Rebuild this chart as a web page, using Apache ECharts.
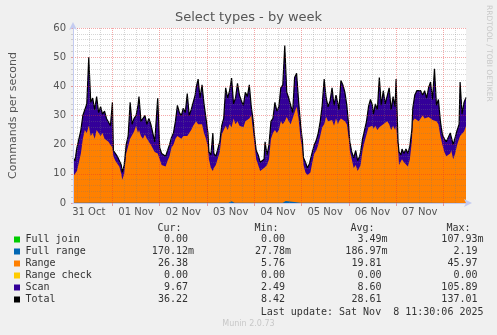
<!DOCTYPE html>
<html><head><meta charset="utf-8">
<script src="https://cdn.jsdelivr.net/npm/echarts@6/dist/echarts.min.js"></script>
<style>html,body{margin:0;padding:0;background:#f0f0f0;}#c{width:497px;height:335px;}</style>
</head><body><div id="c"></div>
<script>
// hours since 31 Oct 00:00
const hours = [4,5,6,7,8,9,10,11,12,13,14,15,16,17,18,19,20,21,22,23,24,24.5,25.5,26.5,27.5,28.5,29,30,31,32,33,34,35,36,37,37.5,38.5,39.5,40.5,41.5,42.5,43.5,44.5,45.5,46.5,47,48,49,50,51,52,53,54,55,56,57,58,59,60,61,62,63,64,65,66,66.5,67.5,68.5,69.5,70.5,71.5,72.5,73,74,75,75.5,76.5,77.5,78.5,79.5,80.5,81.5,82.5,83.5,84.5,85.5,86.5,87.5,88.5,89.5,90.5,91.5,92.5,93.5,94.5,95.5,96,97,98,99,100,101,101.5,102.5,103.5,104.5,105.5,106.5,107.5,108.5,109.5,110.5,111.5,112.5,113.5,114.5,115.5,116.5,117.5,118.5,119.5,120.5,121,122,123,124,124.5,125.5,126.5,127.5,128.5,129.5,130.5,131.5,132.5,133.5,134.5,135.5,136.5,137.5,138.5,139,140,141,142,143,144,144.5,145.5,146.5,147.5,148.5,149.5,150,151,152,153,154,155,156,156.5,157.5,158.5,159.5,160.5,161.5,162.5,163.5,164.5,165.5,166.5,167.5,168,169,169.5,170.5,171,172,173,174,175,176,176.5,177.5,178.5,179.5,180.5,181.5,182.5,183.5,184.5,185.5,186.5,187.5,188.5,189.5,190.5,191.5,192.5,193.5,194.5,195.5,196,197,198,199,200,200.5,201.5,202.5,203.5];
const rangeVals = [9,8.5,11,14,17,22,25,24,26.5,23,24,22,25,24,23,24,22,22.5,21,20,19,16,14.5,13.5,12.5,10,8,10,17,19.5,22,22.5,24.5,26.5,24,25,23,22,23.5,22,21,20,19.5,17.5,17,17,15,13,13,12.5,14.5,16,19,20,22,23,23.5,22,23,22.5,23,24,25,26.5,27,28,27,26.5,27,24,22,19,15,12,11,12,13,13.5,17.5,23.5,25,26.5,25,27,26,29,27,28,26.5,27,26,28,28.5,29,30,24,21,15,13,11,10.5,12,12.5,13,15,22,24,25,24,25,28,27,28,29.5,28,27,26.5,31,33,29,22,18,13,10.5,9.5,10,10.5,14,17,18,20,23,26,27,29.5,28,27.5,28.5,26.5,29,27,28,29,29,28,27,22,18,15,12,13,11,11.5,13,18,21,21.5,26,26.5,26.5,25.5,26.5,25,26,26,27,26.5,28,27,25,26.5,25,26.5,19,13,13.5,15,14,13.5,12.5,15,21,28,29,29.5,28,28.5,30,29,29.5,29.5,30,28.5,29,28,27,23,20,17.5,16,16.5,17,18,15,17,20,22,23,23,24.5,26.4];
const scanVals = [6.5,6,8,8,8,8,5.5,10,23.5,11.5,12,10,11.5,7,10,6.5,9.5,6.5,7.5,6.5,15.5,2,3,2.5,3,3,2.5,3,3,3.5,12.5,4.5,4.5,3.5,9.5,11.5,5,6.5,6.5,5,8,7,4.5,3.5,4.5,19,4,4,4.5,3.5,3.5,4,3.5,4,6,10.5,7.5,8,9.5,8.5,14.5,6,7,8,10,11.5,15.5,9.5,13.5,10,7,5,2.5,4.5,13,5,3,3,3.5,3,4,13,11,11.5,16.8,5,9,13,10.5,8,7.5,10,8,11.5,3,4,3,3,3.5,3,3,3,8.5,3.5,5,6,5,9.5,7.5,8,11.5,13.5,26,8.5,8,9.5,4.5,12,11.5,6,5,3,2.5,3.5,2.5,3.5,2.5,3.5,3,3.5,4,5,7.5,15.5,6.5,5,7.5,11,7,8,7,4,13,11.5,10,6.5,4,3,2.5,3.5,5,3.5,4.5,4.5,4,4,6.5,7,9,7,5,7.5,7,17,7.5,11.5,7.5,5.5,12.5,7,10,8,16,2,4.5,3,3.5,3,5,4.5,4.5,4,4.5,8,9,10,10,7,9.5,6.5,10,11.5,7,17,5.5,8.5,5,3.5,4.5,5,6,7,6.5,5,5.5,5,5,18.5,7.5,10,9.8];
const totalVals = [15.5,14.5,19,22,25,30,30.5,34,50,34.5,36,32,36.5,31,33,30.5,31.5,29,28.5,26.5,34.5,18,17.5,16,15.5,13,10.5,13,20,23,34.5,27,29,30,33.5,36.5,28,28.5,30,27,29,27,24,21,21.5,36,19,17,17.5,16,18,20,22.5,24,28,33.5,31,30,32.5,31,37.5,30,32,34.5,37,39.5,42.5,36,40.5,34,29,24,17.5,16.5,24,17,16,16.5,21,26.5,29,39.5,36,38.5,42.8,34,36,41,37,35,33.5,38,36.5,40.5,33,28,24,18,16.5,14,13.5,15,21,16.5,20,28,29,34.5,31.5,33,39.5,40.5,54,38,36,36.5,31,43,44.5,35,27,21,15.5,14,12,13.5,13,17.5,20,21.5,24,28,33.5,42.5,36,33,35,39.5,33.5,37,34,32,42,40.5,38,33.5,26,21,17.5,15.5,18,14.5,16,17.5,22,25,28,33,35.5,33.5,30.5,34,32,43,33.5,38.5,34,33.5,39.5,32,36.5,33,42.5,21,17.5,16.5,18.5,17,18.5,17,19.5,25,32.5,37,38.5,38,38.5,37,38.5,36,39.5,41.5,35.5,46,33.5,35.5,28,23.5,22,21,22.5,24,24.5,20,22.5,25,27,41.5,30.5,34.5,36.2];
const fullRangePts = [[4,0.1],[11,0.1],[12,0.6],[13,0.1],[83,0.1],[84.5,0.6],[86,0.1],[110.5,0.1],[112,0.7],[113,0.1],[119.5,0.1],[120.5,0.5],[121.5,0.1],[158.5,0.1],[159.5,0.6],[160.5,0.1],[178.5,0.1],[179.5,0.4],[180.5,0.1],[203.5,0.1]];
const hourMin = 4, hourMax = 203.5;
const dayTicks = [24,48,72,96,120,144,168,192];
const dayLabelHours = [12,36,60,84,108,132,156,180];
const dayLabels = ['31 Oct','01 Nov','02 Nov','03 Nov','04 Nov','05 Nov','06 Nov','07 Nov'];
const legendNames = ['Full join','Full range','Range','Range check','Scan','Total'];
const legendColors = ['#00CC00','#0066B3','#FF8000','#FFCC00','#330099','#000000'];
const curVals = ['0.00 ','170.12m','26.38 ','0.00 ','9.67 ','36.22 '];
const minVals = ['0.00 ','27.78m','5.76 ','0.00 ','2.49 ','8.42 '];
const avgVals = ['3.49m','186.97m','19.81 ','0.00 ','8.60 ','28.61 '];
const maxVals = ['107.93m','2.19 ','45.97 ','0.00 ','105.89 ','137.01 '];

// half-hour slots spanning the time axis, used only for the vertical grid
const slots = [];
for (let h = hourMin; h <= hourMax; h += 0.5) slots.push(h);

const chart = echarts.init(document.getElementById('c'), null, {renderer:'canvas'});
const pair = (arr) => arr.map((v,i)=>[hours[i], v]);
// Scan is drawn stacked on top of Range
const scanTop = hours.map((h,i)=>[h, rangeVals[i] + scanVals[i]]);
const mono = '"DejaVu Sans Mono", monospace';
const sans = '"DejaVu Sans", sans-serif';
const graphics = [];
graphics.push({type:'text', left:'center', top:11, style:{text:'Select types - by week', font:'13px '+sans, fill:'#555'}});
graphics.push({type:'text', x:492.5, y:5, rotation:-Math.PI/2, style:{text:'RRDTOOL / TOBI OETIKER', font:'7.5px '+sans, fill:'#c8c8c8'}});
const rowY = [239.5,251.5,263.5,275.5,287.5,299.5];
const heads = [['Cur:',157.5],['Min:',254.5],['Avg:',350.5],['Max:',446.5]];
heads.forEach(h=>graphics.push({type:'text', x:h[1], y:228.5, style:{text:h[0], font:'10px '+mono, fill:'#333', verticalAlign:'middle'}}));
const cols = [[curVals,194],[minVals,291],[avgVals,387.5],[maxVals,483.5]];
legendNames.forEach((n,i)=>{
  graphics.push({type:'rect', shape:{x:14, y:rowY[i]-3, width:6, height:6}, style:{fill:legendColors[i]}});
  graphics.push({type:'text', x:25.5, y:rowY[i], style:{text:n, font:'10px '+mono, fill:'#333', verticalAlign:'middle'}});
  cols.forEach(c=>graphics.push({type:'text', x:c[1], y:rowY[i], style:{text:c[0][i], font:'10px '+mono, fill:'#333', align:'right', verticalAlign:'middle'}}));
});
graphics.push({type:'text', x:483.5, y:312, style:{text:'Last update: Sat Nov  8 11:30:06 2025', font:'10px '+mono, fill:'#333', align:'right', verticalAlign:'middle'}});
graphics.push({type:'text', x:248.5, y:324, style:{text:'Munin 2.0.73', font:'8px '+sans, fill:'#c8c8c8', align:'center', verticalAlign:'middle'}});

const axisCol = '#c4cbf0';
const minorCol = 'rgba(120,120,120,0.3)';
const majorCol = 'rgba(230,50,50,0.42)';
const gridAxis = (test, color, z) => ({
  type:'category', data:slots, boundaryGap:false, position:'top', z:z,
  axisLine:{show:false}, axisLabel:{show:false}, axisTick:{show:false},
  splitLine:{show:true, interval:(i)=>test(slots[i]), lineStyle:{color:color, type:[1,1], width:1}}
});
chart.setOption({
  animation:false,
  backgroundColor:'#f0f0f0',
  grid:{left:67, right:31, top:28, bottom:132, show:true, backgroundColor:'#ffffff', borderWidth:0},
  xAxis:[{
    // data axis, in hours
    type:'value', min:hourMin, max:hourMax, z:12,
    axisLine:{show:true, lineStyle:{color:axisCol, width:1}, symbol:['none','arrow'], symbolSize:[6,8], symbolOffset:[0,6]},
    axisTick:{show:true, customValues:dayTicks, length:3, lineStyle:{color:'#e49a9a'}},
    axisLabel:{customValues:dayLabelHours, formatter:(v)=>dayLabels[dayLabelHours.indexOf(v)], color:'#555', fontSize:10, fontFamily:sans, margin:4},
    splitLine:{show:false}
  },
  gridAxis((h)=>h % 6 === 0 && h % 24 !== 0, minorCol, 10),
  gridAxis((h)=>h % 24 === 0, majorCol, 11)
  ],
  yAxis:{
    type:'value', min:0, max:60, interval:10, z:11,
    name:'Commands per second', nameLocation:'middle', nameGap:54,
    nameTextStyle:{color:'#555', fontSize:11, fontFamily:sans},
    axisLine:{show:true, lineStyle:{color:axisCol}, symbol:['none','arrow'], symbolSize:[6,8], symbolOffset:[0,6]},
    axisTick:{show:true, length:2, lineStyle:{color:'#e49a9a'}},
    minorTick:{show:true, splitNumber:5, length:2, lineStyle:{color:'#cccccc'}},
    axisLabel:{color:'#555', fontSize:10, fontFamily:sans, margin:7},
    splitLine:{show:true, lineStyle:{color:majorCol, type:[1,1], width:1}},
    minorSplitLine:{show:true, lineStyle:{color:minorCol, type:[1,1], width:1}}
  },
  series:[
    {name:'Scan', type:'line', data:scanTop, showSymbol:false, lineStyle:{width:0}, areaStyle:{color:'#330099', opacity:1}, itemStyle:{color:'#330099'}, z:2},
    {name:'Range', type:'line', data:pair(rangeVals), showSymbol:false, lineStyle:{width:0}, areaStyle:{color:'#FF8000', opacity:1}, itemStyle:{color:'#FF8000'}, z:3},
    {name:'Full range', type:'line', data:fullRangePts, showSymbol:false, lineStyle:{width:0}, areaStyle:{color:'#0066B3', opacity:1}, z:4},
    {name:'Total', type:'line', data:pair(totalVals), showSymbol:false, lineStyle:{width:1.2, color:'#000'}, z:5}
  ],
  graphic:graphics
});
</script></body></html>
